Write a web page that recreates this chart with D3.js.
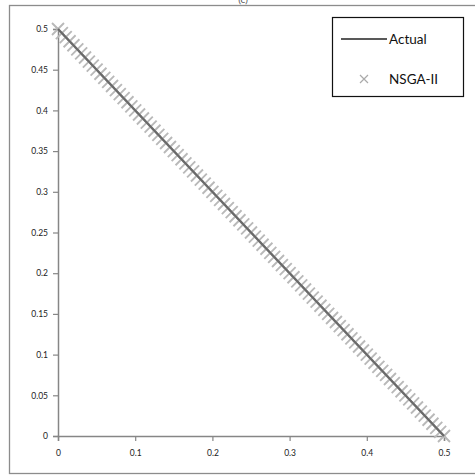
<!DOCTYPE html>
<html>
<head>
<meta charset="utf-8">
<script src="https://cdn.jsdelivr.net/npm/d3@7"></script>
<style>
  html, body { margin: 0; padding: 0; background: #fff; }
  svg { display: block; font-family: "Lato", "Open Sans", sans-serif; }
</style>
</head>
<body>
<svg id="chart" width="475" height="475"></svg>
<script>
// Reference Pareto front (straight line f2 = 0.5 - f1)
const actualX = [0, 0.5];
const actualY = [0.5, 0];

// NSGA-II solutions found along the front
const nsgaX = [0.000, 0.005, 0.010, 0.015, 0.020, 0.025, 0.030, 0.035, 0.040, 0.045,
               0.050, 0.055, 0.060, 0.065, 0.070, 0.075, 0.080, 0.085, 0.090, 0.095,
               0.100, 0.105, 0.110, 0.115, 0.120, 0.125, 0.130, 0.135, 0.140, 0.145,
               0.150, 0.155, 0.160, 0.165, 0.170, 0.175, 0.180, 0.185, 0.190, 0.195,
               0.200, 0.205, 0.210, 0.215, 0.220, 0.225, 0.230, 0.235, 0.240, 0.245,
               0.250, 0.255, 0.260, 0.265, 0.270, 0.275, 0.280, 0.285, 0.290, 0.295,
               0.300, 0.305, 0.310, 0.315, 0.320, 0.325, 0.330, 0.335, 0.340, 0.345,
               0.350, 0.355, 0.360, 0.365, 0.370, 0.375, 0.380, 0.385, 0.390, 0.395,
               0.400, 0.405, 0.410, 0.415, 0.420, 0.425, 0.430, 0.435, 0.440, 0.445,
               0.450, 0.455, 0.460, 0.465, 0.470, 0.475, 0.480, 0.485, 0.490, 0.495, 0.500];
const nsgaY = [0.500, 0.495, 0.490, 0.485, 0.480, 0.475, 0.470, 0.465, 0.460, 0.455,
               0.450, 0.445, 0.440, 0.435, 0.430, 0.425, 0.420, 0.415, 0.410, 0.405,
               0.400, 0.395, 0.390, 0.385, 0.380, 0.375, 0.370, 0.365, 0.360, 0.355,
               0.350, 0.345, 0.340, 0.335, 0.330, 0.325, 0.320, 0.315, 0.310, 0.305,
               0.300, 0.295, 0.290, 0.285, 0.280, 0.275, 0.270, 0.265, 0.260, 0.255,
               0.250, 0.245, 0.240, 0.235, 0.230, 0.225, 0.220, 0.215, 0.210, 0.205,
               0.200, 0.195, 0.190, 0.185, 0.180, 0.175, 0.170, 0.165, 0.160, 0.155,
               0.150, 0.145, 0.140, 0.135, 0.130, 0.125, 0.120, 0.115, 0.110, 0.105,
               0.100, 0.095, 0.090, 0.085, 0.080, 0.075, 0.070, 0.065, 0.060, 0.055,
               0.050, 0.045, 0.040, 0.035, 0.030, 0.025, 0.020, 0.015, 0.010, 0.005, 0.000];

const xTicks = [0, 0.1, 0.2, 0.3, 0.4, 0.5];
const yTicks = [0, 0.05, 0.1, 0.15, 0.2, 0.25, 0.3, 0.35, 0.4, 0.45, 0.5];
const seriesNames = ["Actual", "NSGA-II"];
const title = "(c)";

const svg = d3.select("#chart");

// chart frame
svg.append("rect")
  .attr("x", 9.5).attr("y", 5.5)
  .attr("width", 480).attr("height", 468)
  .attr("fill", "#fff").attr("stroke", "#8c8c8c").attr("stroke-width", 1.3);

svg.append("text")
  .attr("x", 243).attr("y", 3)
  .attr("text-anchor", "middle")
  .attr("font-size", 10).attr("fill", "#555")
  .text(title);

const x = d3.scaleLinear().domain([0, 0.5]).range([58, 444]);
const y = d3.scaleLinear().domain([0, 0.5]).range([436, 29]);

const axisColor = "#868686";

const xAxis = svg.append("g")
  .attr("transform", `translate(0,${y(0)})`)
  .call(d3.axisBottom(x).tickValues(xTicks).tickSize(5).tickPadding(9)
        .tickFormat(d3.format("~g")));
const yAxis = svg.append("g")
  .attr("transform", `translate(${x(0)},0)`)
  .call(d3.axisLeft(y).tickValues(yTicks).tickSize(5).tickPadding(5)
        .tickFormat(d3.format("~g")));

[xAxis, yAxis].forEach(g => {
  g.select(".domain").attr("stroke", axisColor).attr("stroke-width", 1.5);
  g.selectAll(".tick line").attr("stroke", axisColor).attr("stroke-width", 1.2);
  g.selectAll(".tick text").attr("fill", "#222").attr("font-size", 8.5)
    .attr("font-family", "Lato, 'Open Sans', sans-serif");
});

// NSGA-II markers (x shape)
const markerColor = "#b9b9b9";
const xPath = s => `M${-s},${-s}L${s},${s}M${-s},${s}L${s},${-s}`;
svg.append("g").selectAll("path")
  .data(nsgaX.map((d, i) => [d, nsgaY[i]]))
  .join("path")
  .attr("transform", d => `translate(${x(d[0])},${y(d[1])})`)
  .attr("d", xPath(6))
  .attr("stroke", markerColor).attr("stroke-width", 1.9)
  .attr("fill", "none");

// actual front
const line = d3.line().x(d => x(d[0])).y(d => y(d[1]));
svg.append("path")
  .datum(actualX.map((d, i) => [d, actualY[i]]))
  .attr("d", line)
  .attr("stroke", "#6a6a6a").attr("stroke-width", 2.2)
  .attr("fill", "none");

// legend
const lg = svg.append("g");
lg.append("rect")
  .attr("x", 332.5).attr("y", 17.5).attr("width", 131).attr("height", 79)
  .attr("fill", "#fff").attr("stroke", "#111").attr("stroke-width", 1.2);
lg.append("line")
  .attr("x1", 341).attr("x2", 387).attr("y1", 39).attr("y2", 39)
  .attr("stroke", "#222").attr("stroke-width", 1.6);
lg.append("path")
  .attr("transform", "translate(364,79)")
  .attr("d", xPath(4))
  .attr("stroke", "#aaa").attr("stroke-width", 1.2).attr("fill", "none");
lg.selectAll("text")
  .data(seriesNames)
  .join("text")
  .attr("x", 389)
  .attr("y", (d, i) => 44 + i * 40)
  .attr("font-size", 13.5)
  .attr("fill", "#111")
  .text(d => d);
</script>
</body>
</html>
